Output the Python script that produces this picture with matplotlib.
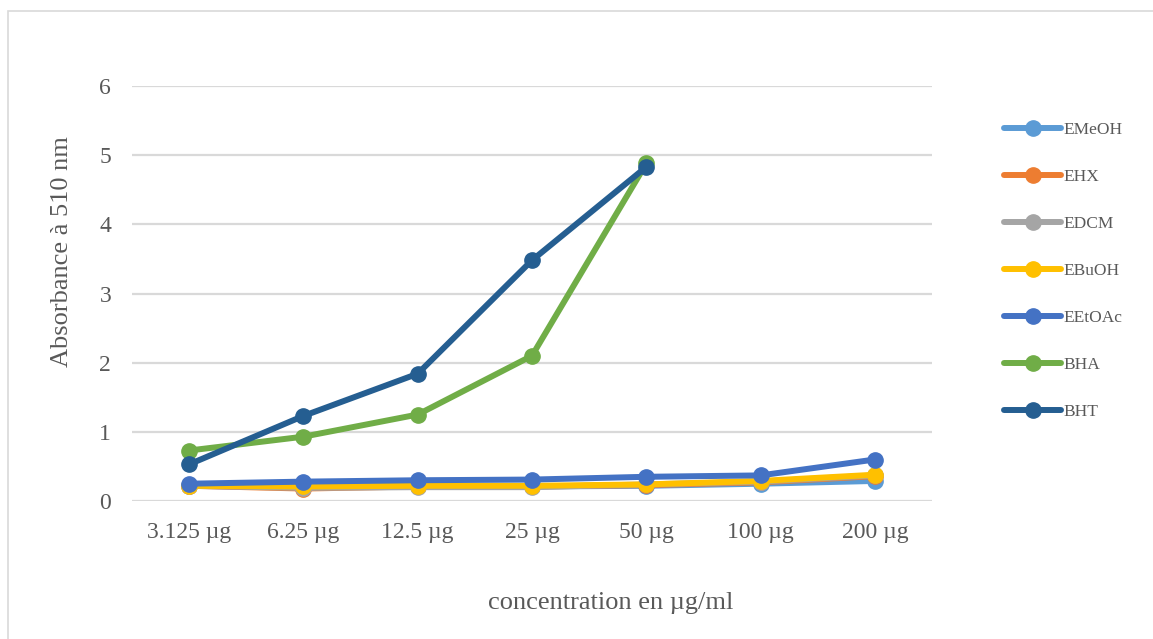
import matplotlib
matplotlib.use("Agg")
import matplotlib.pyplot as plt
from matplotlib.patches import Rectangle

# Concentration categories (x axis)
categories = ["3.125 µg", "6.25 µg", "12.5 µg", "25 µg", "50 µg", "100 µg", "200 µg"]

# Absorbance at 510 nm for each extract / reference antioxidant
emeoh = [0.22, 0.20, 0.21, 0.21, 0.22, 0.25, 0.29]
ehx = [0.22, 0.18, 0.21, 0.21, 0.23, 0.27, 0.36]
edcm = [0.22, 0.19, 0.20, 0.20, 0.24, 0.28, 0.37]
ebuoh = [0.22, 0.21, 0.22, 0.22, 0.24, 0.29, 0.38]
eetoac = [0.25, 0.28, 0.30, 0.31, 0.35, 0.37, 0.60]
bha = [0.73, 0.93, 1.25, 2.10, 4.88]
bht = [0.53, 1.23, 1.84, 3.48, 4.83]

series_names = ["EMeOH", "EHX", "EDCM", "EBuOH", "EEtOAc", "BHA", "BHT"]
series_values = [emeoh, ehx, edcm, ebuoh, eetoac, bha, bht]
series_colors = ["#5B9BD5", "#ED7D31", "#A5A5A5", "#FFC000", "#4472C4", "#70AD47", "#255E91"]

text_color = "#595959"
grid_color = "#D9D9D9"

plt.rcParams["font.family"] = ["Liberation Serif", "DejaVu Serif"]

W, H = 1153, 639
fig = plt.figure(figsize=(W / 100, H / 100), dpi=100)
ax = fig.add_axes([132 / W, 1 - 501 / H, (932 - 132) / W, (501 - 86) / H])

x = list(range(len(categories)))
for name, vals, col in zip(series_names, series_values, series_colors):
    ax.plot(x[:len(vals)], vals, color=col, linewidth=4.3, marker="o",
            markersize=11, label=name, solid_capstyle="round", zorder=3)

ax.set_xlim(-0.5, len(categories) - 0.5)
ax.set_ylim(0, 6)
ax.set_yticks(range(0, 7))
ax.set_xticks(x)
ax.set_xticklabels(categories)
ax.yaxis.grid(True, color=grid_color, linewidth=1.6, zorder=0)
ax.set_axisbelow(True)
for s in ax.spines.values():
    s.set_visible(False)
ax.tick_params(axis="both", length=0, colors=text_color, labelsize=17)
ax.tick_params(axis="x", pad=15)
ax.tick_params(axis="y", pad=15)

# Axis titles
fig.text(62 / W, 1 - 252 / H, "Absorbance à 510 nm", rotation=90,
         ha="center", va="center", fontsize=19, color=text_color)
fig.text(611 / W, 1 - 603 / H, "concentration en µg/ml",
         ha="center", va="center", fontsize=19, color=text_color)

leg = ax.legend(loc="upper left", bbox_to_anchor=(997 / W, 1 - 115 / H),
                bbox_transform=fig.transFigure, frameon=False,
                fontsize=12.5, handlelength=3.3, handletextpad=0.12,
                labelspacing=1.78, borderaxespad=0)
for t in leg.get_texts():
    t.set_color(text_color)

# Light outer frame around the chart area
fig.patches.append(Rectangle((8 / W, -0.1), 1.2, 1 - 11 / H + 0.1,
                             transform=fig.transFigure, fill=False,
                             edgecolor="#D9D9D9", linewidth=1.2))

fig.savefig("out.png", dpi=100)
